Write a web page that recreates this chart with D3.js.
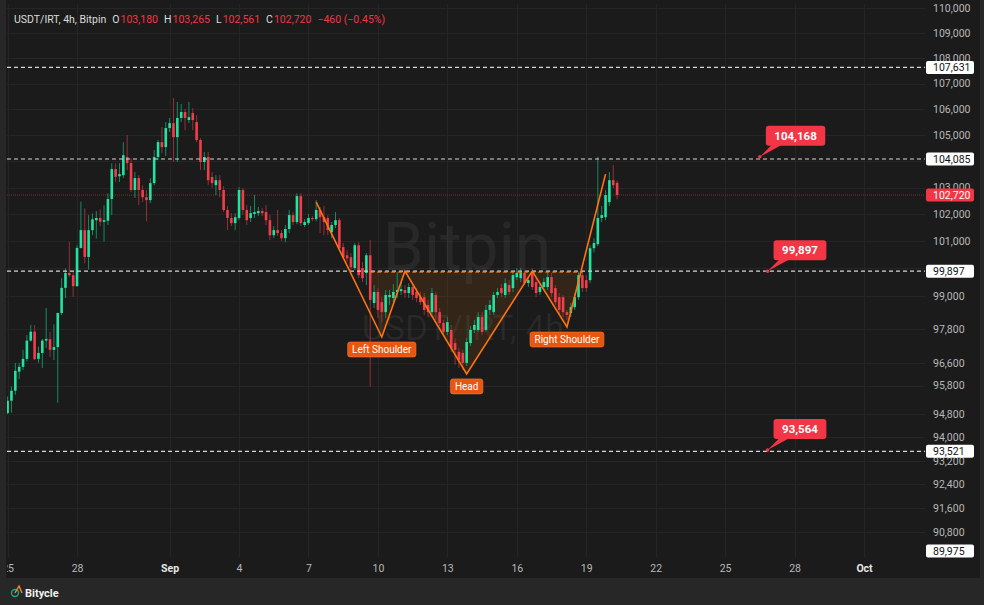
<!DOCTYPE html>
<html><head><meta charset="utf-8">
<script src="https://cdnjs.cloudflare.com/ajax/libs/d3/7.8.5/d3.min.js"></script>
<style>
html,body{margin:0;padding:0;background:#262626;overflow:hidden;}
svg{display:block;font-family:Roboto,Inter,"Noto Sans",sans-serif;}
</style></head><body>
<svg id="chart" width="984" height="605"></svg>
<script>
// ---------- DATA (USDT/IRT, 4h bars starting 2025-08-25 00:00 UTC) ----------
const barStart = "2025-08-25T00:00:00Z";
const opens  = [94840,95270,95620,96290,96460,96740,97390,97710,96740,96950,97390,97440,97060,97160,98380,99290,99830,99750,99350,100750,101410,100420,101410,101780,101860,101720,101760,102570,103700,103430,
103470,104160,103930,102910,103360,102910,102640,102530,103170,104160,104730,104540,105270,105460,104920,105660,105890,105580,105850,105500,104810,103970,104160,103400,103090,103280,102910,102160,101860,101670,
101860,102910,102160,101860,102010,102040,102120,102080,101780,101220,101410,101300,101110,101450,101970,101710,102680,101600,101670,101860,101820,102160,101890,101860,101330,101600,101780,100780,100480,100410,
100010,100850,100010,99830,100480,98740,99140,98770,98410,98950,98920,99140,99170,99210,99100,99320,99140,98950,98950,98670,98410,99030,98410,98020,97700,97770,97300,96990,96950,96600,
97300,97770,97770,98230,97770,98490,98410,99030,99280,99030,99390,99280,99680,99640,99830,99460,99830,99500,99140,99320,99320,99680,99280,98950,98950,98410,98380,98590,98950,99750,
99570,99570,100740,100890,101860,101890,102460,103280,103180];
const highs  = [95420,95770,96600,96600,97060,97590,97950,97950,97180,97450,98560,97710,97970,98390,99640,100000,100980,99870,100850,102470,102220,101970,102030,102120,102180,102340,102780,103920,103920,103930,
104730,105000,104120,103590,103470,103090,102910,103360,104430,104810,105310,105500,105660,106430,106280,106200,106010,106280,106040,105770,104880,104350,104350,103590,103470,103470,103060,102310,102040,102040,
103020,102980,102340,102310,102720,102270,102230,102340,101970,101560,102160,101410,101600,102160,102080,102790,102790,101820,102010,101930,102530,102270,102310,101970,101710,102080,101860,100930,100670,100560,
100930,100960,100230,100560,101040,99390,99280,98950,99210,99210,99430,99860,99500,99390,99460,99460,99280,99140,99100,98850,99280,99140,98560,98130,98230,97950,97480,97130,97060,97480,
97910,98130,98410,98410,98670,98850,99140,99280,99430,99640,99570,99860,100010,100010,99930,99680,100010,99640,99460,99640,99860,99830,99390,99100,99030,98490,98740,99100,99860,99930,
99750,100850,101110,104170,102310,102910,103590,103850,103265];
const lows   = [94800,94850,95480,96030,96350,96650,97350,96700,96600,96420,97130,96800,96700,95200,98300,98920,99690,98960,99330,100730,100180,99960,101220,101100,101560,100980,101600,101970,103220,103210,
103360,103660,102830,102610,102340,102460,101740,102420,103090,104040,104310,104200,105120,103970,103970,105500,105190,105460,105190,104730,103660,103660,103090,102980,102720,102640,102080,101410,101560,101410,
101780,101970,101600,101710,101860,101930,101930,101600,101040,101110,101190,101000,100960,101300,101600,101630,101560,101520,101600,101740,101740,101300,101220,101220,101110,101480,100670,100340,100230,99930,
99930,99640,99500,99390,95760,98560,98200,98050,98200,98670,98770,98920,99030,98920,98920,98850,98770,98670,98310,98230,98310,98130,97910,97590,97590,96990,96530,96420,96350,96490,
97200,97660,97700,97590,97700,98310,98310,98920,98950,98920,99030,99140,99570,99500,99390,99320,99210,98950,99030,99210,99210,98950,98670,98310,98230,98130,98230,98490,98850,99140,
99140,99460,100590,100820,101710,101780,102310,102980,102561];
const closes = [95270,95620,96320,96460,96740,97390,97710,96730,96950,97390,97450,97060,97160,98380,99290,99830,99750,99350,100750,101410,100420,101410,101810,101860,101720,101780,102570,103700,103410,103510,
104230,103930,102910,103360,102910,102640,102530,103170,104160,104730,104540,105270,105460,104920,105660,105890,105660,105690,105580,104810,103970,104160,103280,103170,103280,102910,102160,101860,101670,101890,
102910,102160,101780,102040,102080,102120,102040,101780,101220,101410,101300,101110,101450,101970,101710,102680,101670,101710,101860,101820,102160,101890,101710,101410,101600,101780,100740,100410,100370,100040,
100850,99750,99640,100480,98850,99140,98490,98410,99030,99030,99140,99210,99240,99100,99320,99030,98920,98770,98490,98410,99100,98410,98020,97700,98050,97130,97060,96700,96600,97340,
97770,97950,98230,97700,98490,98670,99030,99140,99100,99460,99140,99750,99830,99860,99460,99570,99320,99100,99320,99500,99680,99100,98770,98490,98410,98310,98590,98950,99750,99280,
99280,100740,100930,101860,101970,102720,103280,103090,102720];

// axis ticks (grid at all, labels only where the reference shows them)
const yGridTicks  = [110000,109000,108000,107000,106000,105000,104000,103000,102000,101000,100000,99000,97800,96600,95800,94800,94000,93200,92400,91600,90800];
const yLabelTicks = [110000,109000,108000,107000,106000,105000,103000,102000,101000,99000,97800,96600,95800,94800,94000,93200,92400,91600,90800];
const xTickDates  = ["2025-08-25","2025-08-28","2025-09-01","2025-09-04","2025-09-07","2025-09-10","2025-09-13","2025-09-16","2025-09-19","2025-09-22","2025-09-25","2025-09-28","2025-10-01"];
const xTickLabels = ["25","28","Sep","4","7","10","13","16","19","22","25","28","Oct"];
const xTickBold   = ["Sep","Oct"];

// horizontal levels and callouts
const levelLines   = [107631, 104085, 99897, 93521];
const axisBoxes    = [107631, 104085, 99897, 93521, 89975];
const lastPrice    = 102720;
const calloutVals  = [104168, 99897, 93564];
const calloutTimes = ["2025-09-26T12:00:00Z","2025-09-26T20:00:00Z","2025-09-26T20:00:00Z"];

// head & shoulders pattern (time, price)
const hsTimes  = ["2025-09-07T08:00:00Z","2025-09-10T04:00:00Z","2025-09-11T04:00:00Z","2025-09-13T20:00:00Z","2025-09-16T16:00:00Z","2025-09-18T04:00:00Z","2025-09-19T20:00:00Z"];
const hsPrices = [102455, 97519, 99897, 96210, 99897, 97875, 103510];
const necklineTimes = ["2025-09-09T16:00:00Z","2025-09-18T20:00:00Z"];
const hsLabels = ["Left Shoulder","Head","Right Shoulder"];
const hsLabelIdx = [1,3,5];

// header
const symbolText = "USDT/IRT, 4h, Bitpin";
const ohlcLetters = ["O","H","L","C"];
const ohlcValues = ["103,180","103,265","102,561","102,720"];
const changeText = "−460 (−0.45%)";

// ---------- DRAW ----------
const svg = d3.select("#chart");
const plot = {l:7, r:925, t:4, b:557};
const x = d3.scaleUtc().domain([new Date("2025-08-25T00:00:00Z"), new Date("2025-10-01T00:00:00Z")]).range([7.6, 864]);
const y = d3.scaleLog().domain([90800,110000]).range([532,8]);
const fmt = d3.format(",");
const t0 = new Date(barStart).getTime();
const barTime = i => new Date(t0 + i*4*3600*1000);
const FONT = "Roboto, Inter, sans-serif";

// backgrounds
svg.append("rect").attr("width",984).attr("height",605).attr("fill","#272727");
svg.append("rect").attr("x",6).attr("y",0).attr("width",974).attr("height",578).attr("fill","#1b1b1b");

const defs = svg.append("defs");
defs.append("clipPath").attr("id","plotclip").append("rect")
  .attr("x",plot.l).attr("y",plot.t).attr("width",plot.r-plot.l).attr("height",plot.b-plot.t);
defs.append("clipPath").attr("id","xaxisclip").append("rect")
  .attr("x",7).attr("y",-10).attr("width",972).attr("height",30);
defs.append("clipPath").attr("id","yaxisclip").append("rect")
  .attr("x",-10).attr("y",3).attr("width",60).attr("height",560);

// grid
const grid = svg.append("g").attr("clip-path","url(#plotclip)");
grid.selectAll("line.h").data(yGridTicks).join("line")
  .attr("x1",plot.l).attr("x2",plot.r).attr("y1",d=>Math.round(y(d))+0.5).attr("y2",d=>Math.round(y(d))+0.5)
  .attr("stroke","#252525").attr("stroke-width",1);
grid.selectAll("line.v").data(xTickDates).join("line")
  .attr("x1",d=>Math.round(x(new Date(d+"T00:00:00Z")))+0.5).attr("x2",d=>Math.round(x(new Date(d+"T00:00:00Z")))+0.5)
  .attr("y1",plot.t).attr("y2",plot.b).attr("stroke","#252525").attr("stroke-width",1);

const g = svg.append("g").attr("clip-path","url(#plotclip)");

// watermark
g.append("text").attr("x",467).attr("y",270).attr("text-anchor","middle")
  .attr("font-size",66).attr("font-family",FONT).attr("fill","rgba(255,255,255,0.06)").text("Bitpin");
g.append("text").attr("x",463).attr("y",340).attr("text-anchor","middle")
  .attr("font-size",35).attr("font-family",FONT).attr("fill","rgba(255,255,255,0.06)").text("USDT/IRT, 4h");

// last price dotted line
g.append("line").attr("x1",plot.l).attr("x2",plot.r).attr("y1",y(lastPrice)).attr("y2",y(lastPrice))
  .attr("stroke","#7d2a31").attr("stroke-width",1).attr("stroke-dasharray","1,1");

// pattern fill
const hsPts = hsTimes.map((t,i)=>[x(new Date(t)), y(hsPrices[i])]);
const nk = necklineTimes.map(t=>[x(new Date(t)), y(99897)]);
const fillPoly = [nk[0], hsPts[1], hsPts[2], hsPts[3], hsPts[4], hsPts[5], nk[1]];
g.append("path").attr("d", d3.line()(fillPoly)+"Z").attr("fill","rgba(245,124,0,0.11)");

// candles
const idx = d3.range(opens.length);
const bw = 2.6;
g.selectAll("line.wick").data(idx).join("line")
  .attr("x1",i=>x(barTime(i))).attr("x2",i=>x(barTime(i)))
  .attr("y1",i=>y(highs[i])).attr("y2",i=>y(lows[i]))
  .attr("stroke",i=>closes[i]>=opens[i]?"#178a63":"#93303a").attr("stroke-width",1);
g.selectAll("rect.body").data(idx).join("rect")
  .attr("x",i=>x(barTime(i))-bw/2).attr("width",bw)
  .attr("y",i=>y(Math.max(opens[i],closes[i])))
  .attr("height",i=>Math.max(1,Math.abs(y(opens[i])-y(closes[i]))))
  .attr("fill",i=>closes[i]>=opens[i]?"#22e39f":"#f23d4b");

// level dashed lines
g.selectAll("line.level").data(levelLines).join("line")
  .attr("x1",plot.l).attr("x2",plot.r).attr("y1",d=>y(d)).attr("y2",d=>y(d))
  .attr("stroke","#d6d6d6").attr("stroke-width",1.2).attr("stroke-dasharray","4,3");

// neckline dashed orange
g.append("line").attr("x1",nk[0][0]).attr("x2",nk[1][0]).attr("y1",nk[0][1]+1).attr("y2",nk[1][1]+1)
  .attr("stroke","#f07a1a").attr("stroke-width",1).attr("stroke-dasharray","4,3");

// pattern line
g.append("path").attr("d", d3.line()(hsPts)).attr("fill","none").attr("stroke","#ff7310").attr("stroke-width",1.6);

// pattern labels
const lblG = g.selectAll("g.hsl").data(hsLabels).join("g");
lblG.each(function(d,k){
  const p = hsPts[hsLabelIdx[k]];
  const el = d3.select(this);
  const txt = el.append("text").attr("x",p[0]).attr("y",p[1]+16).attr("text-anchor","middle")
    .attr("font-size",10).attr("font-family",FONT).attr("fill","#ffffff").text(d);
  const w = txt.node().getComputedTextLength()+9;
  el.insert("rect","text").attr("x",p[0]-w/2).attr("y",p[1]+5).attr("width",w).attr("height",15)
    .attr("rx",2.5).attr("fill","#e8560f").attr("stroke","#f07a3a").attr("stroke-width",0.6);
});

// callouts
calloutVals.forEach((v,k)=>{
  const px = x(new Date(calloutTimes[k])), py = y(v);
  const label = fmt(v);
  const cg = g.append("g");
  const t = cg.append("text").attr("x",0).attr("y",0).attr("font-size",11.5).attr("font-weight",700)
    .attr("font-family",FONT).attr("fill","#fff").text(label);
  const tw = t.node().getComputedTextLength();
  const bx = px+6, bh = 20, by = py-31, bwid = tw+17;
  cg.insert("path","text").attr("d",`M${px},${py} L${bx+6},${by+bh-1} L${bx+16},${by+bh-1} Z`).attr("fill","#f23645");
  cg.insert("rect","text").attr("x",bx).attr("y",by).attr("width",bwid).attr("height",bh).attr("rx",3).attr("fill","#f23645");
  cg.append("circle").attr("cx",px).attr("cy",py).attr("r",1.8).attr("fill","#f23645");
  t.attr("x",bx+bwid/2).attr("y",by+14.2).attr("text-anchor","middle");
});

// y axis
const yAxis = d3.axisRight(y).tickValues(yLabelTicks).tickFormat(fmt).tickSize(0).tickPadding(0);
const ya = svg.append("g").attr("transform","translate(933,0)").attr("clip-path","url(#yaxisclip)").call(yAxis);
ya.select(".domain").remove();
ya.selectAll("text").attr("fill","#b8b8b8").attr("font-size",10.5).attr("font-family",FONT);

// axis boxes
axisBoxes.forEach(v=>{
  const cy = Math.min(y(v), plot.b-6);
  svg.append("rect").attr("x",926).attr("y",cy-6.5).attr("width",48).attr("height",13).attr("rx",2).attr("fill","#ffffff");
  svg.append("text").attr("x",933).attr("y",cy+4).attr("font-size",10.5).attr("font-family",FONT).attr("fill","#111").text(fmt(v));
});
{
  const cy = y(lastPrice);
  svg.append("rect").attr("x",926).attr("y",cy-6.5).attr("width",48).attr("height",13).attr("rx",2).attr("fill","#f23645");
  svg.append("text").attr("x",933).attr("y",cy+4).attr("font-size",10.5).attr("font-family",FONT).attr("fill","#fff").text(fmt(lastPrice));
}

// x axis
const xAxis = d3.axisBottom(x).tickValues(xTickDates.map(d=>new Date(d+"T00:00:00Z")))
  .tickFormat((d,i)=>xTickLabels[i]).tickSize(0).tickPadding(0);
const xa = svg.append("g").attr("transform","translate(0,565)").attr("clip-path","url(#xaxisclip)").call(xAxis);
xa.select(".domain").remove();
xa.selectAll("text").attr("fill",(d,i)=>xTickBold.includes(xTickLabels[i])?"#e6e6e6":"#b8b8b8")
  .attr("font-weight",(d,i)=>xTickBold.includes(xTickLabels[i])?700:400)
  .attr("font-size",10.5).attr("font-family",FONT);

// header: place segments left to right without overlap
const hdr = svg.append("g").attr("font-size",10.5).attr("font-family",FONT);
let cx = 14;
function put(txt, color, gapAfter){
  const t = hdr.append("text").attr("x",cx).attr("y",23).attr("fill",color).text(txt);
  cx += t.node().getComputedTextLength() + gapAfter;
}
put(symbolText, "#dcdcdc", 6);
ohlcLetters.forEach((L,i)=>{ put(L, "#dcdcdc", 1); put(ohlcValues[i], "#f23645", 6); });
put(changeText, "#f23645", 0);

// footer brand
const ft = svg.append("g");
ft.append("circle").attr("cx",15).attr("cy",593).attr("r",3.5).attr("fill","none").attr("stroke","#1aa58a").attr("stroke-width",1.4);
ft.append("path").attr("d","M15,593 L19,586 L22,593").attr("fill","none").attr("stroke","#f28c28").attr("stroke-width",1.4);
ft.append("text").attr("x",25).attr("y",597).attr("font-size",11).attr("font-weight",700)
  .attr("font-family",FONT).attr("fill","#f0f0f0").text("Bitycle");
</script>
</body></html>
